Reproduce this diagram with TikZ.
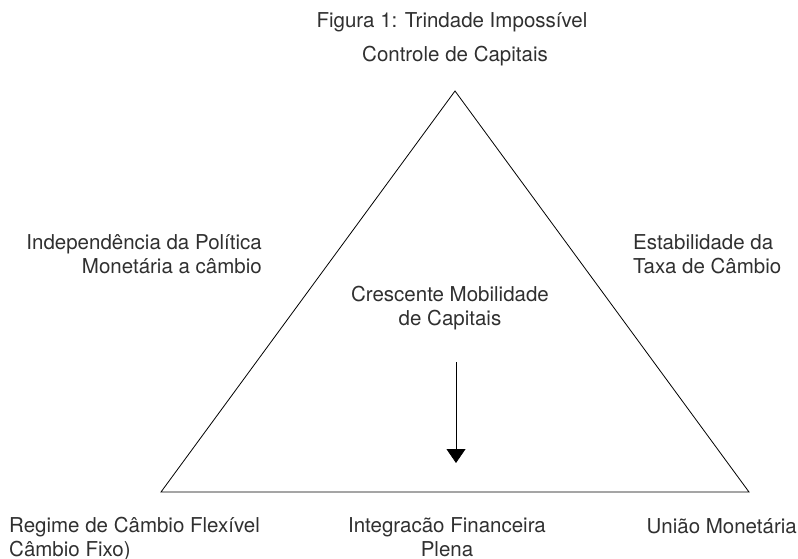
\documentclass[tikz,border=0pt]{standalone}
\usepackage{fontspec}
\setmainfont{TeX Gyre Heros}
\usepackage{xcolor}
\usetikzlibrary{arrows.meta}
\definecolor{texto}{HTML}{303030}

\begin{document}
\begin{tikzpicture}[x=1pt,y=-1pt,
	rotulo/.style={inner sep=0pt,text=texto,font=\fontsize{20.5}{23.5}\selectfont},
	lado/.style={draw=black,line width=0.8pt}]
	\useasboundingbox (0,0) rectangle (798,559);
	%titulo e vertice de cima
	\node[rotulo,anchor=base] (titulo) at (452,28) {Figura 1: Trindade Impossível};
	\node[rotulo,anchor=base] (controle) at (455,62) {Controle de Capitais};
	
	%os tres vertices do triangulo
	\coordinate (topo) at (455,91);
	\coordinate (esq) at (161,492);
	\coordinate (dir) at (749,492);
	\draw[lado] (topo) -- (esq) -- (dir) -- cycle;
	
	%base do node = linha de baixo do texto
	\node[rotulo,anchor=base east,align=right] (politica) at (262,273)
		{Independência da Política\\Monetária a câmbio};
	\node[rotulo,anchor=base west,align=left] (taxa) at (633,273)
		{Estabilidade da\\Taxa de Câmbio};
	
	%seta de mobilidade no centro
	\node[rotulo,anchor=base,align=center] (mobilidade) at (450,325)
		{Crescente Mobilidade\\de Capitais};
	\coordinate (setaini) at (456,362);
	\coordinate (setafim) at (456,463);
	\draw[lado,-{Triangle[width=19pt,length=14pt]}] (setaini) -- (setafim);
	
	%rotulos de baixo
	\node[rotulo,anchor=base west,align=left] (regime) at (9,556)
		{Regime de Câmbio Flexível\\Câmbio Fixo)};
	\node[rotulo,anchor=base,align=center] (integracao) at (447,556)
		{Integracão Financeira\\Plena};
	\node[rotulo,anchor=base east] (uniao) at (797,533) {União Monetária};
\end{tikzpicture}
\end{document}
